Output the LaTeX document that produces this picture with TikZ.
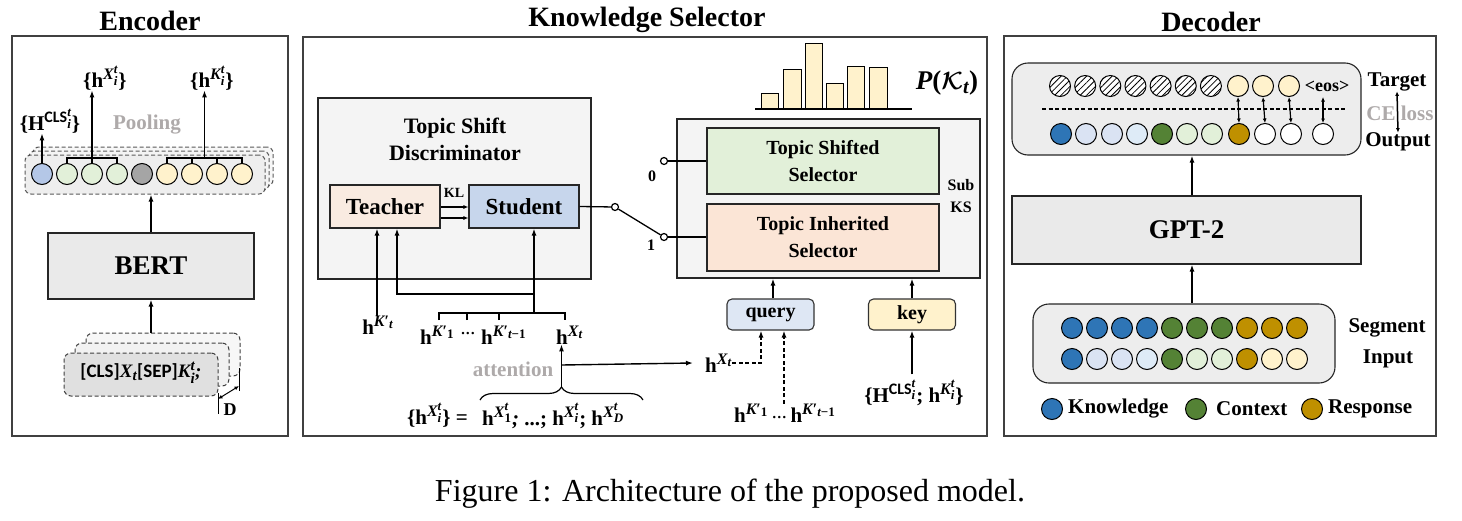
\documentclass[tikz,border=0pt]{standalone}
\usepackage{amsmath}
\usepackage{fontspec}
\setmainfont{Liberation Serif}
\newfontfamily\carl{Carlito}
\usetikzlibrary{arrows.meta,patterns.meta,decorations.pathreplacing,calc}
\DeclareMathSizes{21}{21}{16}{13}
\DeclareMathSizes{19}{19}{15}{12}
\DeclareMathSizes{27}{27}{20}{16}
\newcommand{\fsz}[1]{\fontsize{#1}{#1}\selectfont}
\newcommand{\bi}[1]{\text{\bfseries\itshape #1}}
\newcommand{\bu}[1]{\text{\bfseries #1}}
\newcommand{\hb}{\bu{h}}
\newcommand{\Hb}{\bu{H}}
\newcommand{\lbr}{\bu{\{}}
\newcommand{\rbr}{\bu{\}}}
\newcommand{\clsx}{\text{\carl\bfseries CLS}}
\newcommand{\Kp}{\bi{K}\bu{′}}
\definecolor{encb}{HTML}{B4C7E7}
\definecolor{dgray}{HTML}{A5A5A5}
\definecolor{cl}{HTML}{E2F0D9}
\definecolor{rl}{HTML}{FFF2CC}
\definecolor{kb}{HTML}{2E75B6}
\definecolor{kl}{HTML}{DAE3F3}
\definecolor{klb}{HTML}{DEEBF7}
\definecolor{cg}{HTML}{548235}
\definecolor{rg}{HTML}{BF9000}
\definecolor{boxg}{HTML}{EAEAEA}
\definecolor{boxl}{HTML}{F4F4F4}
\definecolor{peach}{HTML}{F9EBE1}
\definecolor{tisc}{HTML}{FBE5D6}
\definecolor{stud}{HTML}{C7D6EC}
\definecolor{gtxt}{HTML}{AEAAAA}
\definecolor{qc}{HTML}{DEE7F4}
\begin{document}
\begin{tikzpicture}[x=1pt,y=-1pt,
  frame/.style={draw=black!75,line width=1.6pt,inner sep=0pt},
  box/.style={draw=black!85,line width=1.1pt,inner sep=0pt},
  rbox/.style={draw=black!85,line width=1.1pt,inner sep=0pt,rounded corners=16pt,fill=gray!14},
  lbl/.style={inner sep=0pt,font=\bfseries\boldmath\fsz{21}},
  ttl/.style={inner sep=0pt,font=\bfseries\fsz{28}},
  arr/.style={-{Latex[length=7pt,width=5pt]},line width=1.4pt},
  sarr/.style={-{Latex[length=5pt,width=4pt]},line width=1.2pt},
  darr/.style={{Latex[length=4.5pt,width=4pt]}-{Latex[length=4.5pt,width=4pt]},line width=1.2pt},
  dot/.style={circle,draw=black,line width=1pt,minimum size=21pt,inner sep=0pt},
  hatch/.style={preaction={fill=white},pattern={Lines[angle=45,distance=4.5pt,line width=0.8pt]}},
  pdash/.style={dash pattern=on 4pt off 2.5pt},
  pool/.style={draw=black!65,pdash,line width=1pt,rounded corners=6pt,fill=gray!13,minimum width=240,minimum height=39,inner sep=0pt},
  inp/.style={draw=black!75,pdash,line width=1pt,rounded corners=7pt,minimum width=154,minimum height=43,inner sep=0pt},
  brk/.style={line width=1.2pt},
  wire/.style={line width=1.3pt},
  sw/.style={circle,draw=black,line width=1.2pt,fill=white,minimum size=7pt,inner sep=0pt},
  qk/.style={draw=black!80,line width=1.1pt,rounded corners=5pt,minimum width=87,minimum height=31,inner sep=0pt,font=\bfseries\fsz{20}},
  bar/.style={draw=black,line width=1pt,fill=rl}
]
\useasboundingbox (0,0) rectangle (1462,520);

% ================= Encoder =================
\node[frame,minimum width=276,minimum height=400] (encF) at (150,236) {};
\node[ttl] (encT) at (150,21) {Encoder};
\node[pool,fill=gray!6] (poolB) at (153,166.5) {};
\node[pool,fill=gray!9] (poolM) at (149,170.5) {};
\node[pool] (poolF) at (145,174.5) {};
\foreach \i/\c in {1/encb,2/cl,3/cl,4/cl,5/dgray,6/rl,7/rl,8/rl,9/rl}
  \node[dot,fill=\c] (e\i) at ({42+25*(\i-1)},174) {};
\draw[brk] (e2.north) -- ++(0,-5) -| (e4.north);
\draw[brk] (e3.north) -- ++(0,-5);
\coordinate (gX) at ($(e3.north)+(0,-5)$);
\draw[brk] (e6.north) -- ++(0,-5) -| (e9.north);
\draw[brk] (e7.north) -- ++(0,-5);
\draw[brk] (e8.north) -- ++(0,-5);
\coordinate (gK) at ($(e6.north)!0.5!(e9.north)+(0,-5)$);
\node[lbl] (hXe) at (105,78) {$\lbr\hb^{\bi{X}_{\bi{i}}^{\bi{t}}}\rbr$};
\draw[arr] (gX) -- (gX |- hXe.south);
\node[lbl] (hKe) at (212,78) {$\lbr\hb^{\bi{K}_{\bi{i}}^{\bi{t}}}\rbr$};
\draw[arr] (gK) -- (gK |- hKe.south);
\node[lbl] (Hce) at (50,121) {$\lbr\Hb^{\clsx_{\bi{i}}^{\bi{t}}}\rbr$};
\draw[arr] (e1.north) -- (e1.north |- Hce.south);
\node[lbl,text=gtxt] (poolT) at (147,125) {Pooling};

\node[box,fill=boxg,minimum width=206,minimum height=66,font=\bfseries\fsz{27}] (bert) at (151,266) {BERT};
\draw[arr] (bert.north) -- (bert.north |- poolF.south);

\node[inp,fill=gray!6] (inB) at (163,354.5) {};
\node[inp,fill=gray!10] (inM) at (152,364.5) {};
\node[inp,fill=gray!24] (inF) at (141,374.5) {};
\node[lbl,font=\bfseries\fsz{19}] (inT) at (141,373) {{\carl\bfseries [CLS]}$\bi{X}_{\bi{t}}${\carl\bfseries [SEP]}$\bi{K}_{\bi{i}}^{\bi{t}}$\textit{;}};
\draw[arr] (bert.south |- inB.north) -- (bert.south);
\coordinate (Da) at (218,393);
\coordinate (Db) at (218,414);
\coordinate (Dc) at (239,368);
\coordinate (Dd) at (239,391);
\draw[line width=1pt] (Da) -- (Db);
\draw[line width=1pt] (Dc) -- (Dd);
\coordinate (D1) at (218,399);
\coordinate (D2) at (239,386);
\draw[darr,line width=1pt] (D1) -- (D2);
\node[lbl,font=\bfseries\fsz{18}] (Dl) at (230,410) {D};

% ================= Knowledge Selector =================
\node[frame,minimum width=684,minimum height=399] (ksF) at (645,236.5) {};
\node[ttl] (ksT) at (647,20) {Knowledge Selector};
\node[box,fill=boxl,minimum width=273,minimum height=181] (tsd) at (454.5,188.5) {};
\node[lbl,align=center,font=\bfseries\fontsize{22}{27}\selectfont] (tsdT) at (455,139.5) {Topic Shift\\Discriminator};
\node[box,fill=peach,minimum width=110,minimum height=43,font=\bfseries\fsz{23}] (teach) at (385,206.5) {Teacher};
\node[box,fill=stud,minimum width=110,minimum height=43,font=\bfseries\fsz{23}] (stud) at (524,206.5) {Student};
\draw[sarr] ([yshift=-0.5pt]teach.east) -- ([yshift=-0.5pt]stud.west);
\draw[sarr] ([yshift=-11.5pt]teach.east) -- ([yshift=-11.5pt]stud.west);
\node[lbl,font=\bfseries\fsz{14}] (kl) at (454,193) {KL};

\node[lbl] (hKt) at (378,325) {$\hb^{\Kp_{\bi{t}}}$};
\draw[arr] ([xshift=-1pt]hKt.north) -- ([xshift=-1pt]hKt.north |- teach.south);
\coordinate (jm) at (534,294);
\coordinate (jb) at (534,313);
\draw[arr] (jb) -- (jb |- stud.south);
\draw[arr] (jm) -| ([xshift=12pt]teach.south);
\coordinate (b1) at (439,320);
\coordinate (b2) at (467,320);
\coordinate (b3) at (499,320);
\coordinate (b4) at (565,320);
\draw[brk] (b1) -- (b1 |- jb) -- (b4 |- jb) -- (b4);
\draw[brk] (b2) -- (b2 |- jb);
\draw[brk] (b3) -- (b3 |- jb);
\node[lbl,anchor=west] (hK1) at (420,335) {$\hb^{\Kp_{\bu{1}}}$};
\node[lbl] (dts) at (468,335) {\fsz{15}···};
\node[lbl,anchor=west] (hKt1) at (481,335) {$\hb^{\Kp_{\bi{t}\bu{−1}}}$};
\node[lbl,anchor=west] (hXt) at (556,335) {$\hb^{\bi{X}_{\bi{t}}}$};

\coordinate (brL) at (480,400);
\coordinate (brR) at (643,400);
\draw[brk,decorate,decoration={brace,amplitude=13pt}] (brL) -- (brR);
\coordinate (brtip) at (561.5,387);
\draw[arr] (brtip) -- (brtip |- hXt.south);
\coordinate (att) at (561.5,365);
\node[lbl,anchor=west] (hXr) at (705,363) {$\hb^{\bi{X}_{\bi{t}}}$};
\draw[arr] (att) -- ([xshift=-12pt]hXr.west);
\node[lbl,text=gtxt] (attn) at (513,369) {attention};
\node[lbl,anchor=east] (eqL) at (468,415) {$\lbr\hb^{\bi{X}_{\bi{i}}^{\bi{t}}}\rbr\ \bu{=}$};
\node[lbl,anchor=west] (eqR) at (482,416) {$\hb^{\bi{X}_{\bu{1}}^{\bi{t}}}\bi{;}\ \bu{...}\bu{;}\ \hb^{\bi{X}_{\bi{i}}^{\bi{t}}}\bu{;}\ \hb^{\bi{X}_{\bi{D}}^{\bi{t}}}$};

% sub KS
\node[box,fill=boxl,minimum width=303,minimum height=159] (subks) at (828.5,198.5) {};
\node[box,fill=cl,minimum width=232,minimum height=66,align=center,font=\bfseries\fontsize{20}{27}\selectfont] (tss) at (823,161) {Topic Shifted\\Selector};
\node[box,fill=tisc,minimum width=232,minimum height=67,align=center,font=\bfseries\fontsize{20}{27}\selectfont] (tis) at (823,237.5) {Topic Inherited\\Selector};
\node[lbl,align=center,font=\bfseries\fontsize{16}{22}\selectfont] (subl) at (961,196) {Sub\\KS};

% switch
\node[sw] (sA) at (615,207) {};
\node[sw] (sB) at (664,237) {};
\node[sw] (sC) at (664,161) {};
\draw[wire] (stud.east) -- (sA);
\draw[wire] (sA) -- (sB);
\draw[wire] (sB) -- (sB -| tis.west);
\draw[wire] (sC) -- (sC -| tss.west);
\node[lbl,font=\bfseries\fsz{16}] (l0) at (652,176) {0};
\node[lbl,font=\bfseries\fsz{16}] (l1) at (651,245) {1};

% histogram
\foreach \a/\b/\t in {761/778/93,783/801/69,805/822/43,826/843/83,847/864/66,869/887/67}
  \draw[bar] (\a,109) rectangle (\b,\t);
\coordinate (hb1) at (755,109);
\coordinate (hb2) at (912,109);
\draw[line width=1.5pt] (hb1) -- (hb2);
\node[lbl,font=\bfseries\boldmath\fsz{27}] (pk) at (947,83) {{\itshape P}($\boldsymbol{\mathcal{K}}_{\bi{t}}$)};

% query / key
\node[qk,fill=qc] (query) at (770.5,314.5) {query};
\node[qk,fill=rl] (key) at (912,314.5) {key};
\draw[arr] ([xshift=2.5pt]query.north) -- ([xshift=2.5pt]query.north |- subks.south);
\draw[arr] (key.north) -- (key.north |- subks.south);
\node[lbl] (keyin) at (914,393) {$\lbr\Hb^{\clsx_{\bi{i}}^{\bi{t}}}\bu{;}\ \hb^{\bi{K}_{\bi{i}}^{\bi{t}}}\rbr$};
\coordinate (kin) at ($(keyin.north)+(0,-6)$);
\draw[arr] (key.south |- kin) -- (key.south);
\coordinate (qd1) at ([xshift=-9.5pt]query.south);
\coordinate (qd2) at ([xshift=13.5pt]query.south);
\draw[arr,pdash] (hXr.east) -| (qd1);
\node[lbl] (hKr) at (785,413) {$\hb^{\Kp_{\bu{1}}}$\,{\fsz{15}···}\,$\hb^{\Kp_{\bi{t}\bu{−1}}}$};
\draw[arr,pdash] (hKr.north -| qd2) -- (qd2);

% ================= Decoder =================
\node[frame,minimum width=432,minimum height=400] (decF) at (1220,236) {};
\node[ttl] (decT) at (1211,22) {Decoder};
\node[rbox,minimum width=349,minimum height=92] (outb) at (1186.5,109) {};
\foreach \i in {1,...,7}
  \node[dot,hatch] (t\i) at ({1060+25.15*(\i-1)},86) {};
\node[dot,fill=rl] (ty1) at (1238,86) {};
\node[dot,fill=rl] (ty2) at (1263,86) {};
\node[dot,fill=rl] (ty3) at (1289,86) {};
\node[lbl,font=\bfseries\fsz{18}] (eos) at (1327,86) {\textless eos\textgreater};
\coordinate (dl1) at (1042,109);
\coordinate (dl2) at (1345,109);
\draw[line width=1.2pt,pdash] (dl1) -- (dl2);
\foreach \i/\x/\c in {1/1061/kb,2/1086/kl,3/1112/kl,4/1137/klb,5/1162/cg,6/1187/cl,7/1212/cl,8/1239/rg,9/1265/white,10/1291/white,11/1323/white}
  \node[dot,fill=\c] (o\i) at (\x,134) {};
\draw[darr] (ty1.south) -- (o8.north);
\draw[darr] (ty2.south) -- (o9.north);
\draw[darr] (ty3.south) -- (o10.north);
\coordinate (eosA) at (1323,97);
\draw[darr] (eosA) -- (o11.north);
\node[lbl] (target) at (1397,82) {Target};
\node[lbl,text=gtxt] (celoss) at (1400,113) {CE loss};
\node[lbl] (outp) at (1398,142) {Output};
\draw[darr,line width=1.5pt] (target.south) -- (outp.north);

\node[box,fill=boxg,minimum width=349,minimum height=68,font=\bfseries\fsz{27}] (gpt) at (1186.5,230) {GPT-2};
\draw[arr] ([xshift=5.5pt]gpt.north) -- ([xshift=5.5pt]gpt.north |- outb.south);
\node[rbox,minimum width=302,minimum height=79] (inb) at (1184,343.5) {};
\draw[arr] ([xshift=8pt]inb.north) -- ([xshift=8pt]inb.north |- gpt.south);
\foreach \i/\c in {1/kb,2/kb,3/kb,4/kb,5/cg,6/cg,7/cg,8/rg,9/rg,10/rg}
  \node[dot,fill=\c] (sa\i) at ({1072+25*(\i-1)},328) {};
\foreach \i/\c in {1/kb,2/kl,3/kl,4/klb,5/cg,6/cl,7/cl,8/rg,9/rl,10/rl}
  \node[dot,fill=\c] (sb\i) at ({1072+25*(\i-1)},359) {};
\node[lbl] (segl) at (1387,328) {Segment};
\node[lbl] (inpl) at (1388,359) {Input};

% legend
\node[dot,fill=kb] (lgk) at (1052,409) {};
\node[lbl,anchor=west] (lgkt) at (1068,409) {Knowledge};
\node[dot,fill=cg] (lgc) at (1196,409) {};
\node[lbl,anchor=west] (lgct) at (1216,409) {Context};
\node[dot,fill=rg] (lgr) at (1312,409) {};
\node[lbl,anchor=west] (lgrt) at (1328,409) {Response};

% caption
\node[inner sep=0pt,font=\fsz{32}] (cap) at (730,494) {Figure 1: Architecture of the proposed model.};
\end{tikzpicture}
\end{document}
